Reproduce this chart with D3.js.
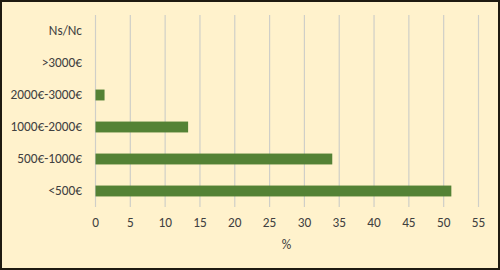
<!DOCTYPE html>
<html>
<head>
<meta charset="utf-8">
<script src="https://cdn.jsdelivr.net/npm/d3@7"></script>
<style>
  body { margin: 0; background: #fff; }
  text { font-family: Carlito, Lato, sans-serif; }
</style>
</head>
<body>
<div id="chart"></div>
<script>
// categories from top to bottom
var categories = ["Ns/Nc", ">3000€", "2000€-3000€", "1000€-2000€", "500€-1000€", "<500€"];
var values = [0, 0, 1.3, 13.3, 34.0, 51.1];
var xTicks = [0, 5, 10, 15, 20, 25, 30, 35, 40, 45, 50, 55];

var W = 500, H = 270;
var margin = {top: 15, right: 22, bottom: 63, left: 95},
    width = W - margin.left - margin.right,
    height = H - margin.top - margin.bottom;

var svg = d3.select("#chart")
  .append("svg")
  .attr("width", W)
  .attr("height", H);

// background + frame
svg.append("rect")
  .attr("x", 1).attr("y", 1)
  .attr("width", W - 2).attr("height", H - 2)
  .attr("fill", "#FFF2CC")
  .attr("stroke", "#1f1a10")
  .attr("stroke-width", 2);

var g = svg.append("g")
  .attr("transform", "translate(" + margin.left + "," + margin.top + ")");

var x = d3.scaleLinear().domain([0, 55]).range([0, 383]);
var y = d3.scaleBand().domain(categories).range([0, 192]).paddingInner(0.66).paddingOuter(0.33);

// gridlines
g.selectAll(".grid")
  .data(xTicks)
  .enter()
  .append("line")
  .attr("x1", function(d){ return x(d) + 0.5 })
  .attr("x2", function(d){ return x(d) + 0.5 })
  .attr("y1", 0)
  .attr("y2", 192)
  .attr("stroke", "#CFCFC8")
  .attr("stroke-width", 1.2);

// bars
g.selectAll(".bar")
  .data(values)
  .enter()
  .append("rect")
  .attr("x", x(0) + 0.5)
  .attr("y", function(d, i){ return y(categories[i]) })
  .attr("width", function(d){ return x(d) - x(0) })
  .attr("height", y.bandwidth())
  .attr("fill", "#548235");

// x axis labels
var xAxis = g.append("g")
  .attr("transform", "translate(0,192)")
  .call(d3.axisBottom(x).tickValues(xTicks).tickSize(0).tickPadding(11));
xAxis.select(".domain").remove();
xAxis.selectAll("text")
  .style("font-size", "13.3px")
  .attr("fill", "#404040");

// y axis labels
var yAxis = g.append("g")
  .call(d3.axisLeft(y).tickSize(0).tickPadding(13));
yAxis.select(".domain").remove();
yAxis.selectAll("text")
  .style("font-size", "13.3px")
  .attr("fill", "#404040");

// axis title
g.append("text")
  .attr("x", x(27.5))
  .attr("y", 234)
  .attr("text-anchor", "middle")
  .style("font-size", "13.3px")
  .attr("fill", "#404040")
  .text("%");
</script>
</body>
</html>
